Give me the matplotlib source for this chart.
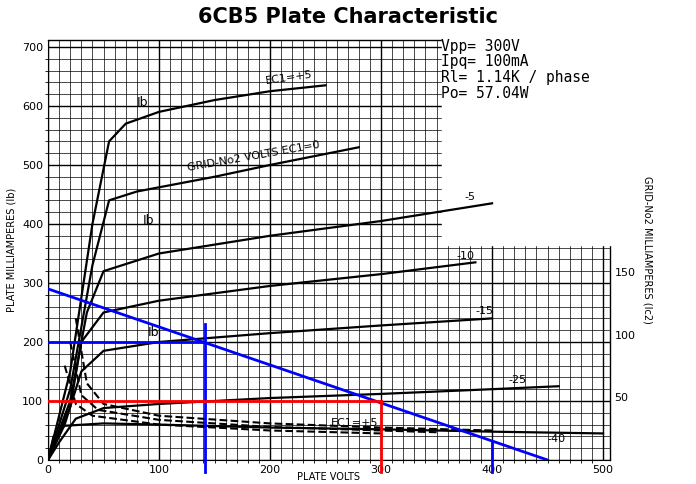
import matplotlib
matplotlib.use("Agg")
import matplotlib.pyplot as plt
from matplotlib.patches import Rectangle
import numpy as np

# plate curves (plate volts, plate mA)
ec_p5_v = [0, 20, 40, 55, 70, 100, 150, 200, 250]
ec_p5_i = [0, 150, 400, 540, 570, 590, 610, 625, 635]
ec_0_v = [0, 20, 40, 55, 80, 150, 200, 280]
ec_0_i = [0, 120, 330, 440, 455, 480, 500, 530]
ec_m5_v = [0, 20, 35, 50, 100, 200, 300, 400]
ec_m5_i = [0, 100, 250, 320, 350, 380, 405, 435]
ec_m10_v = [0, 20, 30, 50, 100, 200, 300, 385]
ec_m10_i = [0, 90, 200, 250, 270, 295, 315, 335]
ec_m15_v = [0, 15, 30, 50, 100, 200, 300, 400]
ec_m15_i = [0, 60, 150, 185, 200, 215, 228, 240]
ec_m25_v = [0, 10, 25, 50, 100, 200, 300, 400, 460]
ec_m25_i = [0, 30, 70, 88, 95, 105, 112, 120, 125]
ec_m40_v = [0, 5, 15, 50, 100, 200, 300, 400, 500]
ec_m40_i = [0, 40, 58, 62, 60, 55, 52, 48, 45]
# screen curves (dashed)
sc_a_v = [25, 35, 50, 100, 200, 300, 400]
sc_a_i = [240, 130, 95, 75, 62, 55, 50]
sc_b_v = [20, 30, 45, 100, 200, 300, 350]
sc_b_i = [200, 110, 85, 68, 56, 50, 47]
sc_c_v = [15, 25, 40, 100, 200, 300]
sc_c_i = [160, 95, 75, 60, 50, 45]

# load line & operating lines
load_v = [0, 450]
load_i = [290, 0]
vpp, ipq = 300, 100
v_sw, i_sw = 141, 200
v_hi = 400

fig = plt.figure(figsize=(6.96, 4.84), dpi=100)
ax = fig.add_axes([0.069, 0.0496, 0.807, 0.868])
ax.set_xlim(0, 506)
ax.set_ylim(0, 712)
ax.set_xticks(np.arange(0, 501, 100))
ax.set_yticks(np.arange(0, 701, 100))
ax.set_xticks(np.arange(0, 506, 10), minor=True)
ax.set_yticks(np.arange(0, 712, 20), minor=True)
ax.grid(True, which='major', color='black', lw=1.0)
ax.grid(True, which='minor', color='black', lw=0.5)
ax.tick_params(labelsize=8, length=0)
ax.add_patch(Rectangle((355, 365), 160, 360, color='white', zorder=2.5, clip_on=False))
ax.spines['top'].set_visible(False)
ax.spines['right'].set_visible(False)
ax.plot([0, 355], [712, 712], color='black', lw=1, clip_on=False)
ax.plot([506, 506], [0, 365], color='black', lw=1, clip_on=False)

for v, i in [(ec_p5_v, ec_p5_i), (ec_0_v, ec_0_i), (ec_m5_v, ec_m5_i),
             (ec_m10_v, ec_m10_i), (ec_m15_v, ec_m15_i), (ec_m25_v, ec_m25_i),
             (ec_m40_v, ec_m40_i)]:
    ax.plot(v, i, color='black', lw=1.6, zorder=3)
for v, i in [(sc_a_v, sc_a_i), (sc_b_v, sc_b_i), (sc_c_v, sc_c_i)]:
    ax.plot(v, i, color='black', lw=1.5, ls='--', zorder=3)

ax.plot(load_v, load_i, color='blue', lw=2, zorder=4)
ax.plot([0, v_sw], [i_sw, i_sw], color='blue', lw=2, zorder=4)
ax.plot([v_sw, v_sw], [-20, 230], color='blue', lw=2, zorder=4, clip_on=False)
ax.plot([v_hi, v_hi], [-20, 30], color='blue', lw=2, zorder=4, clip_on=False)
ax.plot([0, vpp], [ipq, ipq], color='red', lw=2, zorder=4)
ax.plot([vpp, vpp], [-20, ipq], color='red', lw=2, zorder=4, clip_on=False)

tk = dict(fontsize=8, zorder=5)
ax.text(195, 638, 'EC1=+5', rotation=8, **tk)
ax.text(125, 490, 'GRID-No2 VOLTS EC1=0', rotation=10, **tk)
ax.text(375, 440, '-5', **tk)
ax.text(368, 340, '-10', **tk)
ax.text(385, 248, '-15', **tk)
ax.text(415, 130, '-25', **tk)
ax.text(450, 30, '-40', **tk)
ax.text(255, 58, 'EC1=+5', **tk)
ax.text(80, 600, 'Ib', fontsize=9, zorder=5)
ax.text(85, 400, 'Ib', fontsize=9, zorder=5)
ax.text(90, 210, 'Ib', fontsize=9, zorder=5)

ax.set_xlabel('PLATE VOLTS', fontsize=7, labelpad=-2)
ax.set_ylabel('PLATE MILLIAMPERES (Ib)', fontsize=7)
ax2 = ax.twinx()
ax2.set_ylim(0, 335)
ax2.set_yticks([50, 100, 150])
ax2.tick_params(labelsize=8, length=0)
for s in ax2.spines.values():
    s.set_visible(False)
ax2.set_ylabel('GRID-No2 MILLIAMPERES (Ic2)', fontsize=7, rotation=270, labelpad=12)

fig.text(0.5, 0.965, '6CB5 Plate Characteristic', ha='center', va='center',
         fontsize=15, fontweight='bold')
fig.text(0.633, 0.92, 'Vpp= 300V\nIpq= 100mA\nRl= 1.14K / phase\nPo= 57.04W',
         ha='left', va='top', fontsize=10.5, family='DejaVu Sans Mono', linespacing=1.05)
fig.savefig('out.png', dpi=100)
